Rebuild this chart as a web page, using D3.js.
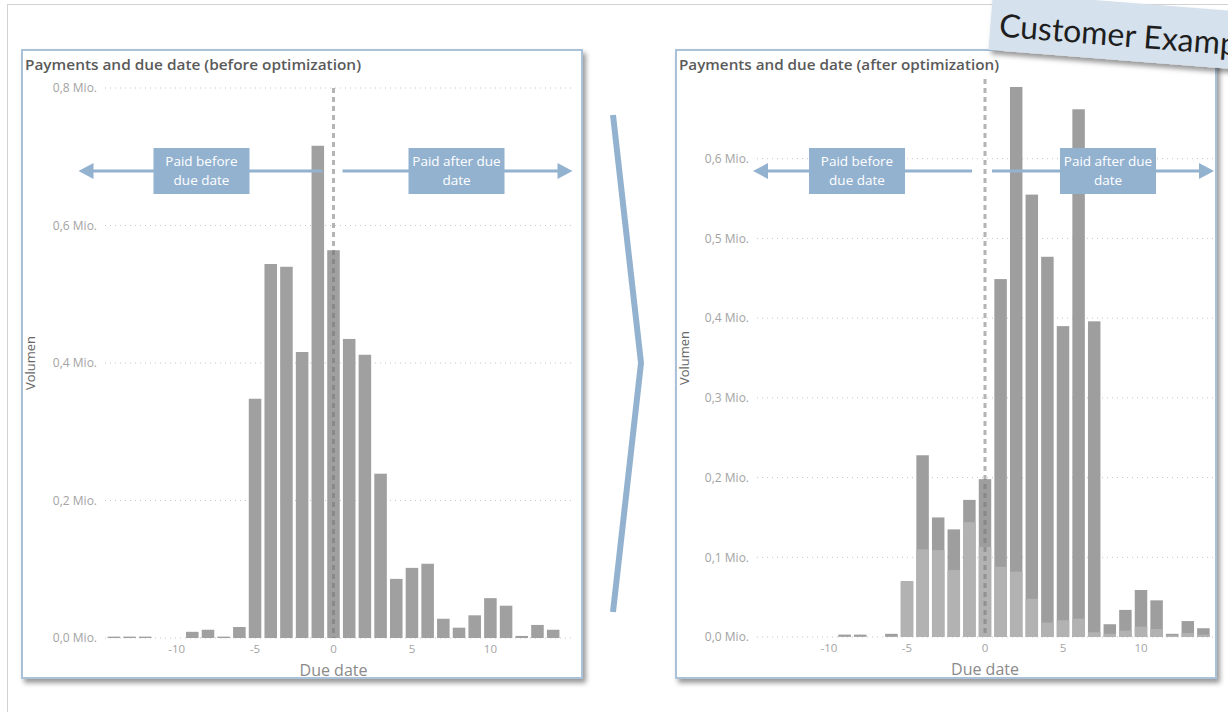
<!DOCTYPE html>
<html>
<head>
<meta charset="utf-8">
<script src="https://cdn.jsdelivr.net/npm/d3@7"></script>
<style>
  html, body { margin: 0; padding: 0; background: #fff; }
  svg { display: block; font-family: "Open Sans", sans-serif; }
</style>
</head>
<body>
<div id="chart"></div>
<script>
// Days relative to due date
const days = [-14, -13, -12, -11, -10, -9, -8, -7, -6, -5, -4, -3, -2, -1, 0,
              1, 2, 3, 4, 5, 6, 7, 8, 9, 10, 11, 12, 13, 14];

// Volume in Mio. before optimization
const beforeVolume = [0.002, 0.002, 0.002, 0, 0, 0.009, 0.012, 0.002, 0.016, 0.348,
                      0.544, 0.540, 0.416, 0.716, 0.564, 0.435, 0.412, 0.239, 0.086, 0.102,
                      0.108, 0.028, 0.015, 0.033, 0.058, 0.047, 0.003, 0.019, 0.012];

// Volume in Mio. after optimization (total and lighter part)
const afterVolume = [0, 0, 0, 0, 0, 0.003, 0.003, 0, 0.004, 0.070,
                     0.228, 0.150, 0.135, 0.172, 0.198, 0.449, 0.690, 0.555, 0.477, 0.390,
                     0.662, 0.396, 0.016, 0.034, 0.059, 0.046, 0.004, 0.020, 0.011];
const afterLight = [0, 0, 0, 0, 0, 0.001, 0.001, 0, 0.001, 0.070,
                    0.110, 0.109, 0.084, 0.144, 0.113, 0.088, 0.082, 0.048, 0.018, 0.021,
                    0.023, 0.006, 0.004, 0.008, 0.013, 0.010, 0.002, 0.005, 0.003];

const beforeTicks = [0, 0.2, 0.4, 0.6, 0.8];
const afterTicks = [0, 0.1, 0.2, 0.3, 0.4, 0.5, 0.6];
const dayTicks = [-10, -5, 0, 5, 10];

const svg = d3.select("#chart").append("svg")
    .attr("width", 1228)
    .attr("height", 712);

const defs = svg.append("defs");
defs.append("filter")
    .attr("id", "shadow")
    .attr("x", "-10%").attr("y", "-10%")
    .attr("width", "130%").attr("height", "130%")
    .append("feDropShadow")
    .attr("dx", 3).attr("dy", 4)
    .attr("stdDeviation", 2.5)
    .attr("flood-color", "#000")
    .attr("flood-opacity", 0.4);

// page frame
svg.append("line").attr("x1", 7).attr("x2", 1228).attr("y1", 4.5).attr("y2", 4.5)
    .attr("stroke", "#d2d2d2");
svg.append("line").attr("x1", 7.5).attr("x2", 7.5).attr("y1", 4).attr("y2", 712)
    .attr("stroke", "#d2d2d2");

const fmt = d => d.toFixed(1).replace(".", ",") + " Mio.";
const blue = "#93b2d0";

function drawPanel(o) {
    const g = svg.append("g");

    g.append("rect")
        .attr("x", o.box[0]).attr("y", o.box[1])
        .attr("width", o.box[2]).attr("height", o.box[3])
        .attr("fill", "#fff")
        .attr("stroke", "#a9c2da")
        .attr("stroke-width", 2)
        .attr("filter", "url(#shadow)");

    g.append("text")
        .attr("x", o.box[0] + 3)
        .attr("y", o.box[1] + 20)
        .attr("textLength", o.titleWidth)
        .attr("lengthAdjust", "spacingAndGlyphs")
        .style("font-size", "15px")
        .style("font-weight", 600)
        .attr("fill", "#5a5a5a")
        .text(o.title);

    const x = d3.scaleBand()
        .domain(days)
        .range(o.xRange)
        .paddingInner(0.2)
        .paddingOuter(0.1);

    const y = d3.scaleLinear()
        .domain([0, o.yMax])
        .range(o.yRange);

    // dotted grid lines
    g.append("g").selectAll("line")
        .data(o.yTicks)
        .join("line")
        .attr("x1", o.gridX[0])
        .attr("x2", o.gridX[1])
        .attr("y1", d => y(d))
        .attr("y2", d => y(d))
        .attr("stroke", "#c6c6c6")
        .attr("stroke-dasharray", "1,4");

    g.append("g")
        .attr("transform", `translate(${o.gridX[0] - 8},0)`)
        .call(d3.axisLeft(y).tickValues(o.yTicks).tickSize(0).tickPadding(0).tickFormat(fmt))
        .call(a => a.select(".domain").remove())
        .selectAll("text")
        .attr("fill", "#a3a3a3")
        .style("font-size", "12px")
        .style("font-family", "Open Sans");

    // bars
    o.series.forEach(s => {
        g.append("g").selectAll("rect")
            .data(days.map((d, i) => ({ day: d, v: s.values[i] })))
            .join("rect")
            .attr("x", p => x(p.day))
            .attr("width", x.bandwidth())
            .attr("y", p => y(p.v))
            .attr("height", p => y(0) - y(p.v))
            .attr("fill", s.color);
    });

    g.append("g")
        .attr("transform", `translate(0,${y(0)})`)
        .call(d3.axisBottom(x).tickValues(dayTicks).tickSize(0).tickPadding(7))
        .call(a => a.select(".domain").remove())
        .selectAll("text")
        .attr("fill", "#a3a3a3")
        .style("font-size", "11.5px")
        .style("font-family", "Open Sans");

    const x0 = x(0) + x.bandwidth() / 2;

    // due date marker
    g.append("line")
        .attr("x1", x0).attr("x2", x0)
        .attr("y1", y(o.yMax)).attr("y2", y(0))
        .attr("stroke", "#777")
        .attr("stroke-opacity", 0.55)
        .attr("stroke-width", 3)
        .attr("stroke-dasharray", "5,4");

    g.append("text")
        .attr("transform", `translate(${o.box[0] + 13},${(o.yRange[0] + o.yRange[1]) / 2}) rotate(-90)`)
        .attr("text-anchor", "middle")
        .style("font-size", "13px")
        .attr("fill", "#666")
        .text("Volumen");

    g.append("text")
        .attr("x", (o.xRange[0] + o.xRange[1]) / 2)
        .attr("y", y(0) + 38)
        .attr("text-anchor", "middle")
        .style("font-size", "16px")
        .attr("fill", "#8a8a8a")
        .text("Due date");

    // callout arrows
    const ay = 171;
    const arrows = [
        { from: x0 + o.arrowLeft[0], to: x0 + o.arrowLeft[1] },
        { from: x0 + o.arrowRight[0], to: x0 + o.arrowRight[1] }
    ];
    arrows.forEach(a => {
        const dir = Math.sign(a.to - a.from);
        g.append("line")
            .attr("x1", a.from).attr("x2", a.to - dir * 12)
            .attr("y1", ay).attr("y2", ay)
            .attr("stroke", blue)
            .attr("stroke-width", 3);
        g.append("path")
            .attr("d", `M${a.to},${ay} L${a.to - dir * 15},${ay - 8} L${a.to - dir * 15},${ay + 8} Z`)
            .attr("fill", blue);
    });

    o.labels.forEach(l => {
        const cx = x0 + l.dx;
        g.append("rect")
            .attr("x", cx - 48).attr("y", 148)
            .attr("width", 96).attr("height", 46)
            .attr("fill", blue);
        l.lines.forEach((t, i) => {
            g.append("text")
                .attr("x", cx)
                .attr("y", 166 + i * 19)
                .attr("text-anchor", "middle")
                .style("font-size", "13.5px")
                .attr("fill", "#fff")
                .text(t);
        });
    });
}

drawPanel({
    box: [22, 50, 560, 628],
    title: "Payments and due date (before optimization)",
    titleWidth: 336,
    xRange: [106, 561],
    yRange: [638, 88],
    yMax: 0.8,
    yTicks: beforeTicks,
    gridX: [105, 572],
    series: [{ values: beforeVolume, color: "#a0a0a0" }],
    arrowLeft: [-11, -255],
    arrowRight: [9, 239],
    labels: [
        { dx: -132, lines: ["Paid before", "due date"] },
        { dx: 123, lines: ["Paid after due", "date"] }
    ]
});

drawPanel({
    box: [676, 50, 540, 628],
    title: "Payments and due date (after optimization)",
    titleWidth: 320,
    xRange: [758.8, 1211.2],
    yRange: [637, 79],
    yMax: 0.7,
    yTicks: afterTicks,
    gridX: [757, 1213],
    series: [
        { values: afterVolume, color: "#9e9e9e" },
        { values: afterLight, color: "#b2b2b2" }
    ],
    arrowLeft: [-13, -232],
    arrowRight: [7, 229],
    labels: [
        { dx: -128, lines: ["Paid before", "due date"] },
        { dx: 123, lines: ["Paid after due", "date"] }
    ]
});

// chevron between the panels
svg.append("polyline")
    .attr("points", "613,115 641,363 613,612")
    .attr("fill", "none")
    .attr("stroke", blue)
    .attr("stroke-width", 6);

// sticky note (runs off the right edge, as in the slide)
const note = svg.append("g")
    .attr("transform", "translate(993,-8) rotate(4.5)");
note.append("rect")
    .attr("width", 330).attr("height", 58)
    .attr("fill", "#d5e1ed")
    .attr("filter", "url(#shadow)");
note.append("text")
    .attr("x", 9).attr("y", 44)
    .style("font-family", "Lato")
    .style("font-size", "32px")
    .attr("fill", "#1e1e1e")
    .text("Customer Example");
</script>
</body>
</html>
